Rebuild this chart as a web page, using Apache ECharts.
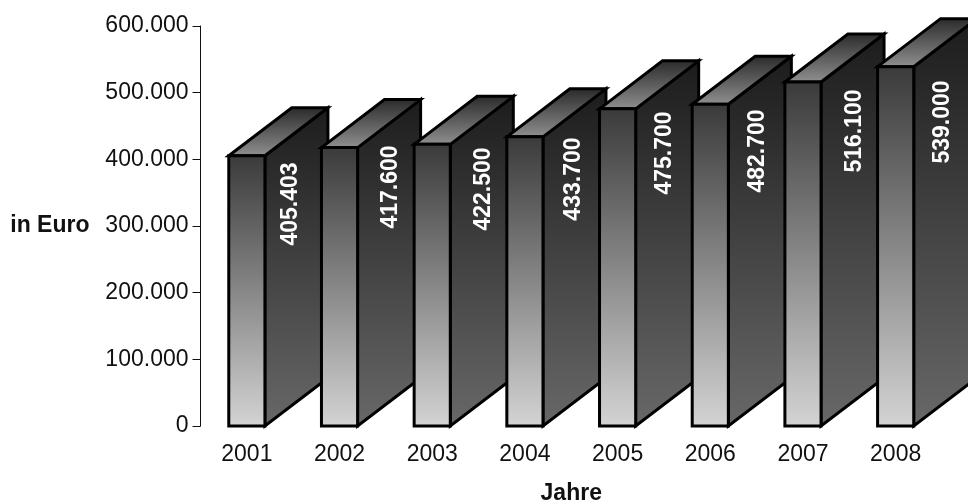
<!DOCTYPE html>
<html>
<head>
<meta charset="utf-8">
<style>html,body{margin:0;padding:0;background:#fff}#c{width:968px;height:501px}</style>
<script src="https://cdn.jsdelivr.net/npm/echarts@6/dist/echarts.min.js"></script>
</head>
<body>
<div id="c"></div>
<script>
const years = ['2001','2002','2003','2004','2005','2006','2007','2008'];
const revenue = [405403,417600,422500,433700,475700,482700,516100,539000];
const yTickLabels = ['0','100.000','200.000','300.000','400.000','500.000','600.000'];

// Hand placement of the rotated value labels, in pixels from the bar's top right front corner
const labelDx = [26,33,33.5,31,29,29.3,33.5,28.8];
const labelDy = [48.3,39.4,44.7,42.2,44.1,46.8,49,55.3];

const DEPTH_X = 63, DEPTH_Y = 48;
const INK = '#111';
const FONT = '"Liberation Sans", Arial, sans-serif';
const fmt = v => String(v).replace(/\B(?=(\d{3})+$)/g, '.');
const vGrad = (a, b) => ({type:'linear',x:0,y:0,x2:0,y2:1,colorStops:[{offset:0,color:a},{offset:1,color:b}]});

const chart = echarts.init(document.getElementById('c'), null, {renderer:'canvas'});
chart.setOption({
  animation:false,
  backgroundColor:'#fff',
  grid:{left:200.5,right:26,top:26,bottom:75,outerBoundsMode:'none'},
  xAxis:{
    type:'category',data:years,
    axisLine:{show:false},axisTick:{show:false},
    axisLabel:{color:INK,fontFamily:FONT,fontSize:23,margin:17},
    name:'Jahre',nameLocation:'middle',nameGap:56,
    nameTextStyle:{color:INK,fontFamily:FONT,fontSize:23,fontWeight:'bold'}
  },
  yAxis:{
    type:'value',min:0,max:600000,interval:100000,
    axisLine:{show:true,lineStyle:{color:INK,width:1}},
    axisTick:{show:true,length:8,lineStyle:{color:INK,width:1}},
    splitLine:{show:false},
    axisLabel:{color:INK,fontFamily:FONT,fontSize:23,margin:12,
      formatter:(v,i)=>yTickLabels[i]},
    name:'in Euro',nameLocation:'middle',nameRotate:0,nameGap:111,
    nameTextStyle:{color:INK,fontFamily:FONT,fontSize:23,fontWeight:'bold'}
  },
  series:[{
    type:'custom',
    data:revenue.map((v,i)=>[i,v]),
    clip:false,
    renderItem(params,api){
      const i = api.value(0);
      const top = api.coord([i,api.value(1)]);
      const base = api.coord([i,0]);
      const w = api.size([1,0])[0]*0.39;
      const l = top[0]-w/2, r = top[0]+w/2, t = top[1], b = base[1];
      const stroke = {stroke:'#000',lineWidth:3,lineJoin:'miter'};
      return {
        type:'group',
        children:[
          {type:'polygon',shape:{points:[[r,t],[r+DEPTH_X,t-DEPTH_Y],[r+DEPTH_X,b-DEPTH_Y],[r,b]]},
           style:{fill:vGrad('#1c1c1c','#686868'),...stroke}},
          {type:'polygon',shape:{points:[[l,t],[l+DEPTH_X,t-DEPTH_Y],[r+DEPTH_X,t-DEPTH_Y],[r,t]]},
           style:{fill:vGrad('#282828','#929292'),...stroke}},
          {type:'rect',shape:{x:l,y:t,width:w,height:b-t},
           style:{fill:vGrad('#3a3a3a','#d4d4d4'),...stroke}},
          {type:'text',x:r+labelDx[i],y:t+labelDy[i],rotation:Math.PI/2,
           style:{text:fmt(api.value(1)),fill:'#fff',font:'bold 23px '+FONT,align:'center',verticalAlign:'middle'}}
        ]
      };
    }
  }]
});
</script>
</body>
</html>
